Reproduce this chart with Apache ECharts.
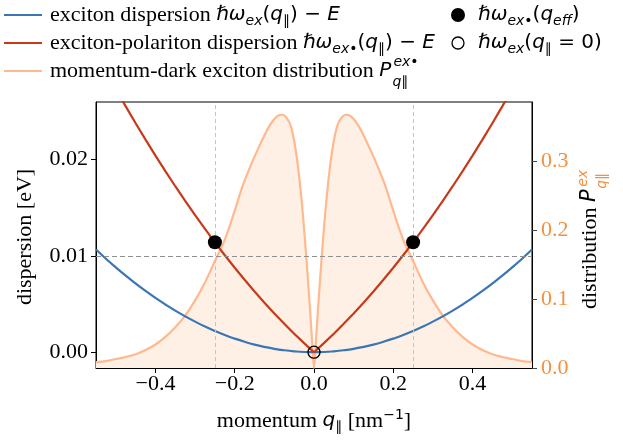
<!DOCTYPE html>
<html><head><meta charset="utf-8">
<script src="https://cdn.jsdelivr.net/npm/echarts@6/dist/echarts.min.js"></script>
<style>html,body{margin:0;padding:0;background:#fff}#c{width:623px;height:441px}</style>
</head><body><div id="c"></div>
<script>
// momentum grid for dispersion curves (nm^-1)
const qGrid = [-0.55,-0.525,-0.5,-0.475,-0.45,-0.425,-0.4,-0.375,-0.35,-0.325,-0.3,-0.275,-0.25,-0.225,-0.2,-0.175,-0.15,-0.125,-0.1,-0.075,-0.05,-0.025,0,
  0.025,0.05,0.075,0.1,0.125,0.15,0.175,0.2,0.225,0.25,0.275,0.3,0.325,0.35,0.375,0.4,0.425,0.45,0.475,0.5,0.525,0.55];
// exciton dispersion (eV)
const excitonDisp = [0.01065,0.0097,0.0088,0.00794,0.00713,0.00636,0.00563,0.00495,0.00431,0.00372,0.00317,0.00266,0.0022,0.00178,0.00141,0.00108,0.00079,0.00055,0.00035,0.0002,0.00009,0.00002,0,
  0.00002,0.00009,0.0002,0.00035,0.00055,0.00079,0.00108,0.00141,0.00178,0.0022,0.00266,0.00317,0.00372,0.00431,0.00495,0.00563,0.00636,0.00713,0.00794,0.0088,0.0097,0.01065];
// exciton-polariton dispersion (eV)
const polaritonDisp = [0.031,0.02914,0.0273,0.02551,0.02376,0.02206,0.0204,0.01879,0.01722,0.0157,0.01422,0.01279,0.0114,0.01006,0.00876,0.00751,0.0063,0.00514,0.00402,0.00295,0.00192,0.00094,0,
  0.00094,0.00192,0.00295,0.00402,0.00514,0.0063,0.00751,0.00876,0.01006,0.0114,0.01279,0.01422,0.0157,0.01722,0.01879,0.0204,0.02206,0.02376,0.02551,0.0273,0.02914,0.031];
// momentum grid for distribution
const qDist = [-0.55,-0.525,-0.5,-0.475,-0.45,-0.425,-0.4,-0.375,-0.35,-0.325,-0.3,-0.275,-0.25,-0.225,-0.2,-0.18,-0.16,-0.14,-0.12,-0.11,-0.1,-0.09,-0.08,-0.07,-0.06,-0.05,-0.04,-0.03,-0.02,-0.015,-0.01,-0.005,0,
  0.005,0.01,0.015,0.02,0.03,0.04,0.05,0.06,0.07,0.08,0.09,0.1,0.11,0.12,0.14,0.16,0.18,0.2,0.225,0.25,0.275,0.3,0.325,0.35,0.375,0.4,0.425,0.45,0.475,0.5,0.525,0.55];
// momentum-dark exciton distribution
const distVals = [0.0085,0.010,0.013,0.016,0.020,0.026,0.034,0.045,0.059,0.076,0.098,0.124,0.155,0.186,0.228,0.264,0.293,0.319,0.343,0.353,0.361,0.366,0.367,0.363,0.353,0.329,0.29,0.235,0.165,0.125,0.085,0.04,0,
  0.04,0.085,0.125,0.165,0.235,0.29,0.329,0.353,0.363,0.367,0.366,0.361,0.353,0.343,0.319,0.293,0.264,0.228,0.186,0.155,0.124,0.098,0.076,0.059,0.045,0.034,0.026,0.020,0.016,0.013,0.010,0.0085];
// effective momentum points
const qEffPts = [[-0.25,0.0114],[0.25,0.0114]];
const zeroPt = [[0,0]];
const qEffLines = [-0.25, 0.25];
const eEffLine = 0.0114;
const xTicks = [-0.4,-0.2,0,0.2,0.4];
const yTicksLeft = [0,0.01,0.02];
const yTicksRight = [0,0.1,0.2,0.3];

const BLUE = '#3a75b6', RED = '#c8391a', ORANGE_L = '#ffb98f', ORANGE_F = '#fff0e6', ORANGE_T = '#f5903f';
const SERIF = '"Liberation Serif", serif', SANS = '"DejaVu Sans", sans-serif';
const FS = 22, MS = 20, SS = 14;
const minus = v => (v < 0 ? '\u2212' : '');

const mctx = document.createElement('canvas').getContext('2d');
function tw(font, s) { mctx.font = font; return mctx.measureText(s).width; }

const rich = {
  t: {fontFamily: SERIF, fontSize: FS, color: '#000'},
  m: {fontFamily: SANS, fontStyle: 'italic', fontSize: MS, color: '#000'},
  r: {fontFamily: SANS, fontSize: MS, color: '#000'},
  s: {fontFamily: SANS, fontStyle: 'italic', fontSize: SS, color: '#000', padding: [12, 0, 0, 0]},
  p: {fontFamily: SANS, fontSize: SS, color: '#000', padding: [0, 0, 12, 0]}
};

const legX = 50;
const row3Text = 'momentum-dark exciton distribution ';
const pEnd = legX + tw(FS + 'px ' + SERIF, row3Text) + tw('italic ' + MS + 'px ' + SANS, 'P');
const yTitlePEnd = tw(FS + 'px ' + SERIF, 'distribution ') + tw('italic ' + FS + 'px ' + SANS, 'P');

const chart = echarts.init(document.getElementById('c'), null, {renderer: 'canvas'});
chart.setOption({
  animation: false,
  backgroundColor: '#fff',
  textStyle: {fontFamily: SERIF},
  grid: {left: 96, top: 102, width: 436, height: 266, show: true, borderColor: '#000', borderWidth: 1, backgroundColor: 'transparent'},
  xAxis: {
    type: 'value', min: -0.55, max: 0.55,
    axisLine: {show: true, onZero: false, lineStyle: {color: '#000', width: 1}},
    axisTick: {show: true, length: 5, customValues: xTicks, lineStyle: {color: '#000'}},
    axisLabel: {customValues: xTicks, margin: 5, fontFamily: SERIF, fontSize: FS, color: '#000',
      formatter: v => minus(v) + Math.abs(v).toFixed(1)},
    splitLine: {show: false}
  },
  yAxis: [{
    type: 'value', min: -0.00164, max: 0.02596, position: 'left',
    axisLine: {show: true, onZero: false, lineStyle: {color: '#000'}},
    axisTick: {show: true, length: 5, customValues: yTicksLeft, lineStyle: {color: '#000'}},
    axisLabel: {customValues: yTicksLeft, margin: 8, fontFamily: SERIF, fontSize: FS, color: '#000',
      formatter: v => v.toFixed(2)},
    splitLine: {show: false}
  }, {
    type: 'value', min: 0, max: 0.3855, position: 'right',
    axisLine: {show: true, onZero: false, lineStyle: {color: '#000'}},
    axisTick: {show: true, length: 5, customValues: yTicksRight, lineStyle: {color: '#444'}},
    axisLabel: {customValues: yTicksRight, margin: 9, fontFamily: SERIF, fontSize: FS, color: ORANGE_T,
      formatter: v => v.toFixed(1)},
    splitLine: {show: false}
  }],
  series: [{
    name: 'dist', type: 'line', yAxisIndex: 1, z: 1, showSymbol: false, smooth: 0.35,
    data: qDist.map((q, i) => [q, distVals[i]]),
    lineStyle: {color: ORANGE_L, width: 2.2},
    areaStyle: {color: ORANGE_F, origin: 'start', opacity: 1}
  }, {
    name: 'exciton', type: 'line', z: 3, showSymbol: false, smooth: true,
    data: qGrid.map((q, i) => [q, excitonDisp[i]]),
    lineStyle: {color: BLUE, width: 2.2},
    markLine: {
      silent: true, symbol: ['none', 'none'], label: {show: false},
      data: [
        {xAxis: qEffLines[0], lineStyle: {color: '#c4c4c4', type: [4, 3], width: 1}},
        {xAxis: qEffLines[1], lineStyle: {color: '#c4c4c4', type: [4, 3], width: 1}},
        {yAxis: eEffLine, lineStyle: {color: '#8f8f8f', type: [5, 3], width: 1.2}}
      ]
    }
  }, {
    name: 'polariton', type: 'line', z: 4, showSymbol: false, smooth: false,
    data: qGrid.map((q, i) => [q, polaritonDisp[i]]),
    lineStyle: {color: RED, width: 2.2}
  }, {
    name: 'eff', type: 'scatter', z: 6, symbolSize: 14,
    data: qEffPts, itemStyle: {color: '#000', opacity: 1}
  }, {
    name: 'zero', type: 'scatter', z: 6, symbolSize: 12,
    data: zeroPt, itemStyle: {color: 'rgba(0,0,0,0)', borderColor: '#000', borderWidth: 1.3, opacity: 1}
  }],
  graphic: [
    // legend
    {type: 'line', shape: {x1: 4, y1: 15, x2: 42, y2: 15}, style: {stroke: BLUE, lineWidth: 2.2}},
    {type: 'line', shape: {x1: 4, y1: 43, x2: 42, y2: 43}, style: {stroke: RED, lineWidth: 2.2}},
    {type: 'line', shape: {x1: 4, y1: 71, x2: 42, y2: 71}, style: {stroke: ORANGE_L, lineWidth: 2.2}},
    {type: 'text', x: legX, y: 15, style: {text: '{t|exciton dispersion }{m|ℏω}{s|ex}{r|(}{m|q}{s|∥}{r|) − }{m|E}', rich: rich, verticalAlign: 'middle'}},
    {type: 'text', x: legX, y: 43, style: {text: '{t|exciton-polariton dispersion }{m|ℏω}{s|ex•}{r|(}{m|q}{s|∥}{r|) − }{m|E}', rich: rich, verticalAlign: 'middle'}},
    {type: 'text', x: legX, y: 71, style: {text: '{t|' + row3Text + '}{m|P}', rich: rich, verticalAlign: 'middle'}},
    {type: 'text', x: pEnd + 2, y: 62, style: {text: 'ex•', font: 'italic ' + SS + 'px ' + SANS, fill: '#000', verticalAlign: 'middle'}},
    {type: 'text', x: pEnd + 1, y: 82, style: {text: 'q∥', font: 'italic ' + SS + 'px ' + SANS, fill: '#000', verticalAlign: 'middle'}},
    {type: 'circle', shape: {cx: 458, cy: 15, r: 7}, style: {fill: '#000'}},
    {type: 'circle', shape: {cx: 458, cy: 43, r: 6}, style: {fill: 'none', stroke: '#000', lineWidth: 1.3}},
    {type: 'text', x: 478, y: 15, style: {text: '{m|ℏω}{s|ex•}{r|(}{m|q}{s|eff}{r|)}', rich: rich, verticalAlign: 'middle'}},
    {type: 'text', x: 478, y: 43, style: {text: '{m|ℏω}{s|ex}{r|(}{m|q}{s|∥}{r| = 0)}', rich: rich, verticalAlign: 'middle'}},
    // x axis title
    {type: 'text', x: 314, y: 421, style: {text: '{t|momentum }{m|q}{s|∥}{t| [nm}{p|−1}{t|]}', rich: rich, align: 'center', verticalAlign: 'middle'}},
    // left y axis title
    {type: 'text', x: 25, y: 237, rotation: Math.PI / 2, style: {text: 'dispersion [eV]', font: FS + 'px ' + SERIF, fill: '#000', align: 'center', verticalAlign: 'middle'}},
    // right y axis title
    {type: 'group', x: 590, y: 309, rotation: Math.PI / 2, children: [
      {type: 'text', x: 0, y: 0, style: {text: '{a|distribution }{b|P}', rich: {
        a: {fontFamily: SERIF, fontSize: FS, color: ORANGE_T},
        b: {fontFamily: SANS, fontStyle: 'italic', fontSize: FS - 1, color: ORANGE_T}}, verticalAlign: 'middle'}},
      {type: 'text', x: yTitlePEnd + 2, y: -7, style: {text: 'ex', font: 'italic ' + SS + 'px ' + SANS, fill: ORANGE_T, verticalAlign: 'middle'}},
      {type: 'text', x: yTitlePEnd, y: 12, style: {text: 'q∥', font: 'italic ' + SS + 'px ' + SANS, fill: ORANGE_T, verticalAlign: 'middle'}}
    ]}
  ]
});
</script></body></html>
